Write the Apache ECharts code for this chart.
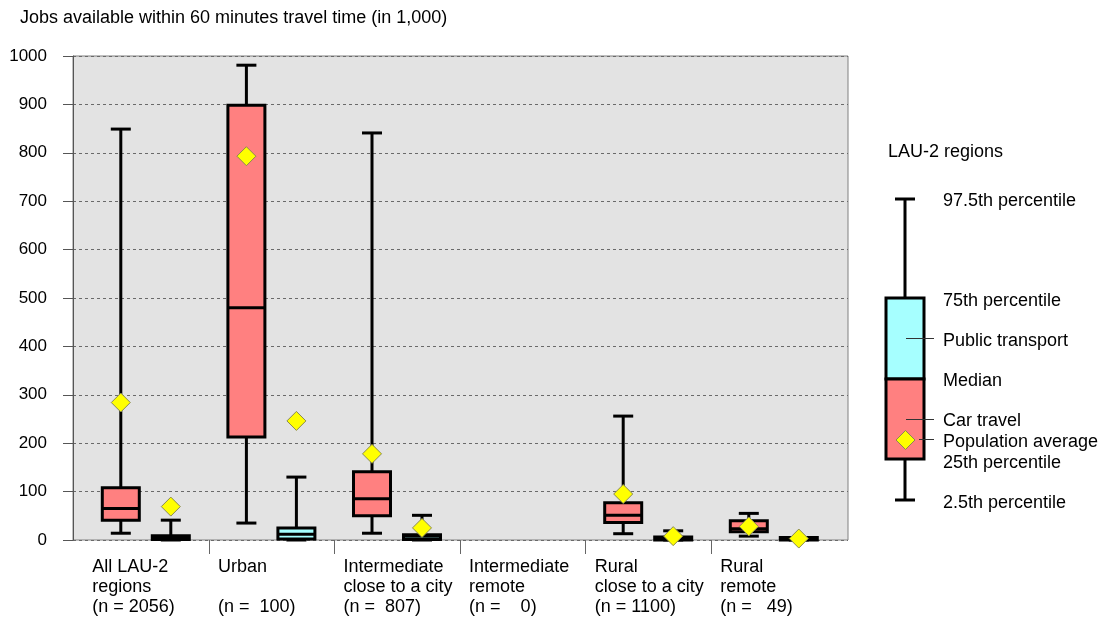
<!DOCTYPE html>
<html>
<head>
<meta charset="utf-8">
<script src="https://cdn.jsdelivr.net/npm/echarts@6/dist/echarts.min.js"></script>
<style>html,body{margin:0;padding:0;background:#fff;}#c{width:1107px;height:619px;}</style>
</head>
<body>
<div id="c"></div>
<script>
// ---- data ----
const categories = [
  'All LAU-2\nregions\n(n = 2056)',
  'Urban\n \n(n =  100)',
  'Intermediate\nclose to a city\n(n =  807)',
  'Intermediate\nremote\n(n =    0)',
  'Rural\nclose to a city\n(n = 1100)',
  'Rural\nremote\n(n =   49)'
];
const yTicks = [0, 100, 200, 300, 400, 500, 600, 700, 800, 900, 1000];

// Car travel
const carP2_5  = [14, 35, 14, null, 13, 8];
const carP25   = [41, 213, 50, null, 36, 17];
const carMed   = [65, 480, 85, null, 51, 23];
const carP75   = [108, 898, 141, null, 77, 40];
const carP97_5 = [849, 981, 841, null, 256, 55];
const carAvg   = [284, 793, 178, null, 95, 28];

// Public transport
const ptP2_5  = [0, 0, 0, null, 0, 0];
const ptP25   = [1, 2, 1, null, 0, 0];
const ptMed   = [4, 12, 8, null, 3, 2];
const ptP75   = [9, 25, 11, null, 6, 5];
const ptP97_5 = [41, 130, 51, null, 19, 5];
const ptAvg   = [69, 246, 25, null, 8, 3];

// ---- build ----
const FONT = '"Liberation Sans", Arial, sans-serif';
const CAR_FILL = '#ff8080';
const PT_FILL = '#a6ffff';
const OFF = 25;

function boxData(lo, q1, md, q3, hi) {
  return categories.map((c, i) => [i, lo[i], q1[i], md[i], q3[i], hi[i]])
    .filter(r => r[1] != null);
}
function avgData(a, off) {
  return categories.map((c, i) => a[i] == null ? null : { value: [i, a[i]], symbolOffset: [off, 0] })
    .filter(r => r != null);
}

function makeRender(off, fill) {
  return function (params, api) {
    const cx = api.coord([api.value(0), 0])[0] + off;
    const y = k => api.coord([api.value(0), api.value(k)])[1];
    const yLo = y(1), yQ1 = y(2), yMd = y(3), yQ3 = y(4), yHi = y(5);
    const hw = 18.5, cw = 10;
    const ls = { stroke: '#000', lineWidth: 3 };
    return {
      type: 'group',
      children: [
        { type: 'line', shape: { x1: cx, y1: yHi, x2: cx, y2: yLo }, style: ls },
        { type: 'line', shape: { x1: cx - cw, y1: yHi, x2: cx + cw, y2: yHi }, style: ls },
        { type: 'line', shape: { x1: cx - cw, y1: yLo, x2: cx + cw, y2: yLo }, style: ls },
        { type: 'rect', shape: { x: cx - hw, y: yQ3, width: hw * 2, height: yQ1 - yQ3 },
          style: { fill: fill, stroke: '#000', lineWidth: 3 } },
        { type: 'line', shape: { x1: cx - hw, y1: yMd, x2: cx + hw, y2: yMd }, style: ls }
      ]
    };
  };
}

function sepRender(params, api) {
  const p = api.coord([api.value(0), 0]);
  const bw = api.size([1, 0])[0];
  const x = Math.round(p[0] - bw / 2) + 0.5;
  return { type: 'line', shape: { x1: x, y1: p[1], x2: x, y2: p[1] + 14 },
    style: { stroke: '#666', lineWidth: 1 } };
}

const richLabel = s => s.split('\n').map(l => '{a|' + l + '}').join('\n');

const chart = echarts.init(document.getElementById('c'), null, { renderer: 'canvas' });
const legX = 943;
const lt = (text, y) => ({ type: 'text', left: legX, top: y - 9,
  style: { text: text, font: '18px ' + FONT, fill: '#000' } });
const ll = (x1, x2, y) => ({ type: 'line', shape: { x1: x1, y1: y, x2: x2, y2: y },
  style: { stroke: '#333', lineWidth: 1 }, z: 10 });

const option = {
  animation: false,
  backgroundColor: '#ffffff',
  textStyle: { fontFamily: FONT },
  title: {
    text: 'Jobs available within 60 minutes travel time (in 1,000)',
    left: 20, top: 9, padding: 0,
    textStyle: { fontFamily: FONT, fontSize: 18, fontWeight: 'normal', color: '#000' }
  },
  grid: [
    { left: 73, right: 259, top: 56, bottom: 79, show: true, backgroundColor: '#e3e3e3',
      borderColor: '#808080', borderWidth: 1 },
    { left: 83, right: 270.4, top: 56, bottom: 79 }
  ],
  xAxis: [
    { gridIndex: 0, type: 'category', data: [''], show: false },
    { gridIndex: 1, type: 'category', data: categories,
      axisLine: { show: false }, axisTick: { show: false }, splitLine: { show: false },
      axisLabel: {
        interval: 0, margin: 17, color: '#000', fontSize: 18, lineHeight: 20,
        width: 107, align: 'center',
        formatter: v => richLabel(v),
        rich: { a: { align: 'left', fontSize: 18, lineHeight: 20, fontFamily: FONT, color: '#000' } }
      } }
  ],
  yAxis: [
    { gridIndex: 0, type: 'value', min: yTicks[0], max: yTicks[yTicks.length - 1], interval: 100,
      axisLine: { show: true, lineStyle: { color: '#555' } },
      axisTick: { show: true, length: 10, lineStyle: { color: '#555' } },
      axisLabel: { color: '#000', fontSize: 17, margin: 26, fontFamily: FONT, formatter: v => String(v) },
      splitLine: { show: true, lineStyle: { color: '#6a6a6a', type: [3, 3], width: 1 } } },
    { gridIndex: 1, type: 'value', min: 0, max: 1000, show: false }
  ],
  series: [
    { type: 'custom', name: 'sep', xAxisIndex: 1, yAxisIndex: 1, clip: false,
      data: categories.slice(1).map((c, i) => [i + 1]), encode: { x: 0 },
      renderItem: sepRender, silent: true, z: 1 },
    { type: 'custom', name: 'Car travel', xAxisIndex: 1, yAxisIndex: 1,
      data: boxData(carP2_5, carP25, carMed, carP75, carP97_5),
      encode: { x: 0, y: [1, 2, 3, 4, 5] },
      renderItem: makeRender(-OFF, CAR_FILL), z: 2 },
    { type: 'custom', name: 'Public transport', xAxisIndex: 1, yAxisIndex: 1,
      data: boxData(ptP2_5, ptP25, ptMed, ptP75, ptP97_5),
      encode: { x: 0, y: [1, 2, 3, 4, 5] },
      renderItem: makeRender(OFF, PT_FILL), z: 2 },
    { type: 'scatter', name: 'Car avg', xAxisIndex: 1, yAxisIndex: 1,
      symbol: 'diamond', symbolSize: 19, data: avgData(carAvg, -OFF),
      itemStyle: { color: '#ffff00', borderColor: '#8a8a50', borderWidth: 1, opacity: 1 }, z: 5 },
    { type: 'scatter', name: 'PT avg', xAxisIndex: 1, yAxisIndex: 1,
      symbol: 'diamond', symbolSize: 19, data: avgData(ptAvg, OFF),
      itemStyle: { color: '#ffff00', borderColor: '#8a8a50', borderWidth: 1, opacity: 1 }, z: 5 }
  ],
  graphic: [
    { type: 'text', left: 888, top: 143, style: { text: 'LAU-2 regions', font: '18px ' + FONT, fill: '#000' } },
    { type: 'line', shape: { x1: 905, y1: 199, x2: 905, y2: 500 }, style: { stroke: '#000', lineWidth: 3 } },
    { type: 'line', shape: { x1: 895, y1: 199, x2: 915, y2: 199 }, style: { stroke: '#000', lineWidth: 3 } },
    { type: 'line', shape: { x1: 895, y1: 500, x2: 915, y2: 500 }, style: { stroke: '#000', lineWidth: 3 } },
    { type: 'rect', shape: { x: 886, y: 298, width: 38, height: 81 }, style: { fill: PT_FILL, stroke: '#000', lineWidth: 3 } },
    { type: 'rect', shape: { x: 886, y: 379, width: 38, height: 80 }, style: { fill: CAR_FILL, stroke: '#000', lineWidth: 3 } },
    { type: 'polygon', shape: { points: [[905.5, 430.5], [915, 440], [905.5, 449.5], [896, 440]] },
      style: { fill: '#ffff00', stroke: '#8a8a50', lineWidth: 1 }, z: 11 },
    ll(906, 934, 338.5), ll(906, 934, 419.5), ll(919, 934, 439.5),
    lt('97.5th percentile', 201), lt('75th percentile', 301), lt('Public transport', 341),
    lt('Median', 381), lt('Car travel', 421), lt('Population average', 442),
    lt('25th percentile', 463), lt('2.5th percentile', 503)
  ]
};
chart.setOption(option);
</script>
</body>
</html>
